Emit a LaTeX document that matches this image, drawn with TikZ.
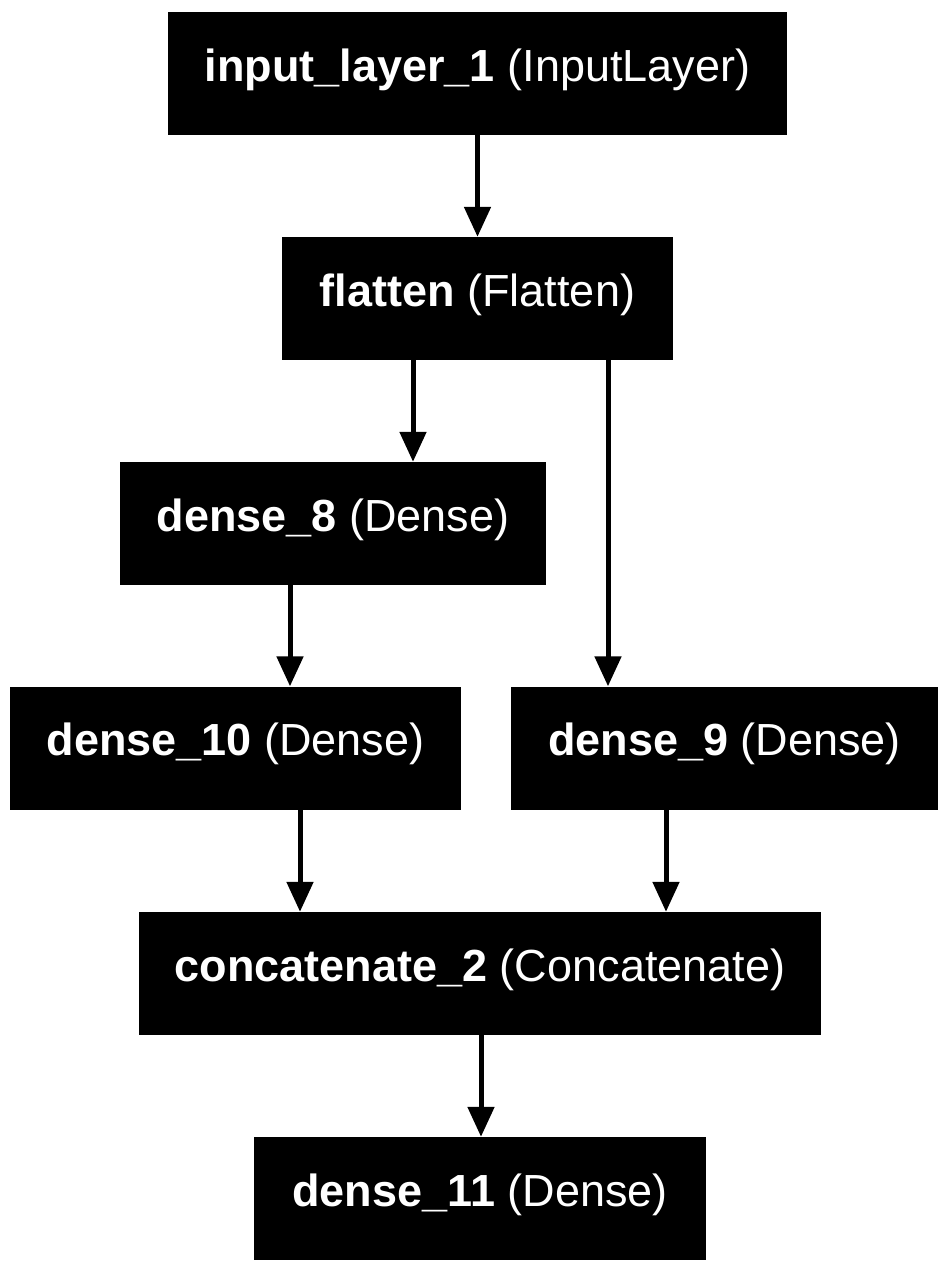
\documentclass[tikz,border=0pt]{standalone}
\usepackage{fontspec}
\setmainfont{Liberation Sans}
\usetikzlibrary{arrows.meta}
\begin{document}
\begin{tikzpicture}[x=1pt,y=-1pt,
  layer/.style={rectangle, fill=black, text=white, inner sep=0pt, minimum height=123pt,
    text height=30pt, text depth=15pt, font=\fontsize{45}{50}\selectfont},
  conn/.style={line width=5pt, -{Triangle[width=26pt,length=30pt]}}]
\useasboundingbox[fill=white] (0,0) rectangle (949,1272);
\node[layer, minimum width=619pt] (in) at (477.5,73.5) {\textbf{input\_layer\_1} (InputLayer)};
\node[layer, minimum width=391pt] (fl) at (477.5,298.5) {\textbf{flatten} (Flatten)};
\node[layer, minimum width=426pt] (d8) at (333,523.5) {\textbf{dense\_8} (Dense)};
\node[layer, minimum width=451pt] (d10) at (235.5,748) {\textbf{dense\_10} (Dense)};
\node[layer, minimum width=427pt] (d9) at (724.5,748) {\textbf{dense\_9} (Dense)};
\node[layer, minimum width=682pt] (cat) at (480,973.5) {\textbf{concatenate\_2} (Concatenate)};
\node[layer, minimum width=452pt] (d11) at (480,1198.5) {\textbf{dense\_11} (Dense)};
\draw[conn] (in.south -| 477.5,0) -- (fl.north -| 477.5,0);
\draw[conn] (fl.south -| 413,0) -- (d8.north -| 413,0);
\draw[conn] (fl.south -| 608,0) -- (d9.north -| 608,0);
\draw[conn] (d8.south -| 290,0) -- (d10.north -| 290,0);
\draw[conn] (d10.south -| 300,0) -- (cat.north -| 300,0);
\draw[conn] (d9.south -| 666,0) -- (cat.north -| 666,0);
\draw[conn] (cat.south -| 481,0) -- (d11.north -| 481,0);
\end{tikzpicture}
\end{document}
